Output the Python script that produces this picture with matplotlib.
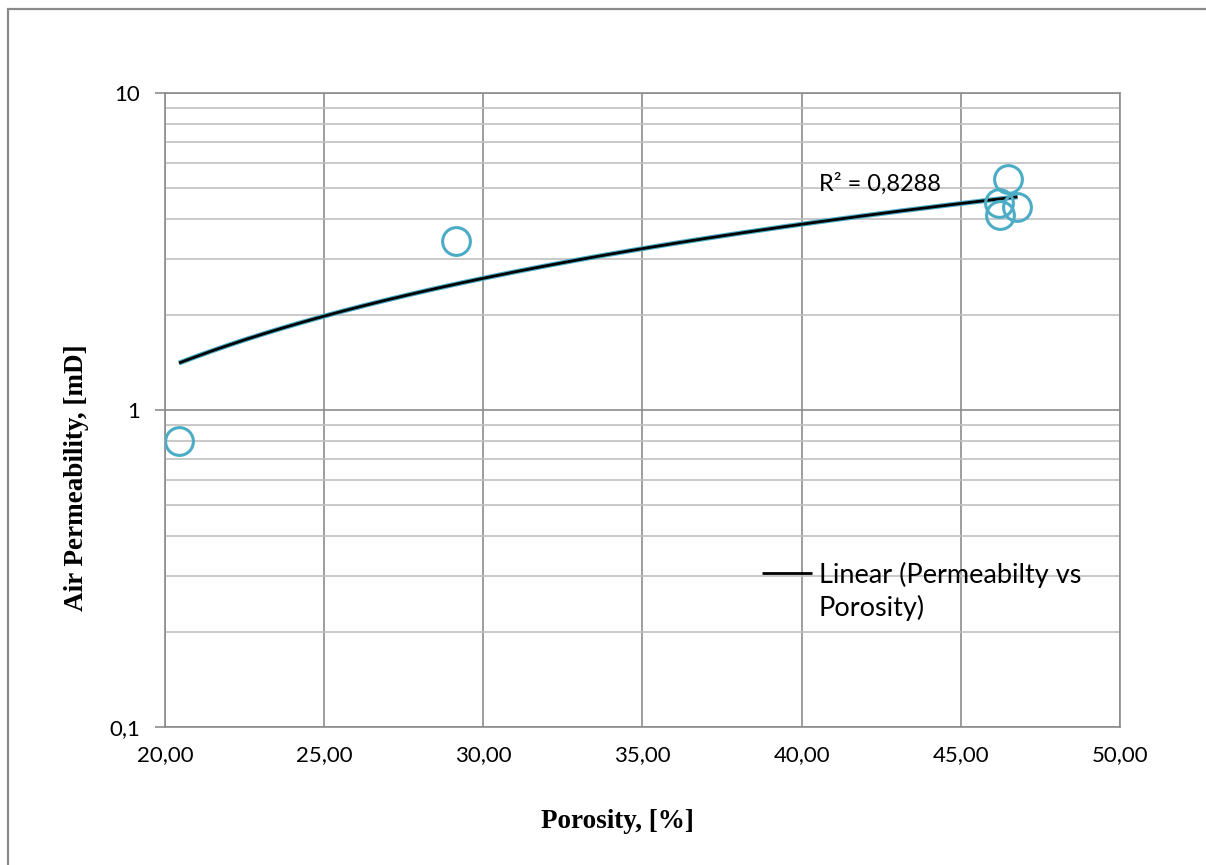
import numpy as np
import matplotlib
matplotlib.use("Agg")
import matplotlib.pyplot as plt
from matplotlib.ticker import FixedLocator, FuncFormatter, NullFormatter
from matplotlib.patches import Rectangle
from matplotlib.legend_handler import HandlerLine2D

porosity = [20.44, 29.14, 46.47, 46.21, 46.23, 46.78]
permeability = [0.80, 3.41, 5.35, 4.50, 4.12, 4.36]
x_ticks = [20, 25, 30, 35, 40, 45, 50]
y_ticks = [0.1, 1, 10]
r2_text = "R² = 0,8288"
legend_label = "Linear (Permeabilty vs\nPorosity)"

W, H = 1206, 865
fig = plt.figure(figsize=(W / 100, H / 100), dpi=100)
ax = fig.add_axes([165 / W, 1 - 727 / H, (1120 - 165) / W, (727 - 93) / H])

tick_font = "Lato"
teal = "#4bacc6"


class ShiftedLine(HandlerLine2D):
    def __init__(self, dy=0.0, **kw):
        super().__init__(**kw)
        self.dy = dy

    def create_artists(self, legend, orig_handle, xdescent, ydescent, width,
                       height, fontsize, trans):
        arts = super().create_artists(legend, orig_handle, xdescent, ydescent,
                                      width, height, fontsize, trans)
        for a in arts:
            a.set_ydata(np.asarray(a.get_ydata()) + self.dy)
        return arts


# linear trendline fit
b, a = np.polyfit(porosity, permeability, 1)
xs = np.linspace(min(porosity), max(porosity), 200)
ys = a + b * xs

ax.set_yscale("log")
ax.set_xlim(20, 50)
ax.set_ylim(0.1, 10)

ax.plot(xs, ys, color=teal, lw=3.6, solid_capstyle="butt", zorder=3)
line, = ax.plot(xs, ys, color="black", lw=2.0, solid_capstyle="butt", zorder=4,
                label=legend_label)
ax.plot(porosity, permeability, linestyle="none", marker="o", ms=20,
        mfc="none", mec=teal, mew=2.2, zorder=5)

ax.xaxis.set_major_locator(FixedLocator(x_ticks))
ax.yaxis.set_major_locator(FixedLocator(y_ticks))
minor = [m * d for d in (0.1, 1) for m in range(2, 10)]
ax.yaxis.set_minor_locator(FixedLocator(minor))
ax.yaxis.set_minor_formatter(NullFormatter())
ax.xaxis.set_major_formatter(FuncFormatter(lambda v, p: f"{v:.2f}".replace(".", ",")))
ax.yaxis.set_major_formatter(FuncFormatter(lambda v, p: (f"{v:g}").replace(".", ",")))

ax.grid(True, which="major", axis="both", color="#8c8c8c", lw=1.2)
ax.grid(True, which="minor", axis="y", color="#c0c0c0", lw=1.2)
ax.set_axisbelow(True)
for s in ax.spines.values():
    s.set_color("#8c8c8c")
    s.set_linewidth(1.2)

ax.tick_params(axis="y", which="major", length=7, width=1.2, color="#8c8c8c",
               labelsize=16, pad=11)
ax.tick_params(axis="y", which="minor", length=0)
ax.tick_params(axis="x", which="major", length=0, labelsize=16, pad=13)
for lab in ax.get_xticklabels() + ax.get_yticklabels():
    lab.set_fontfamily(tick_font)

ax.set_xlabel("Porosity, [%]", fontfamily="Liberation Serif", fontweight="bold",
              fontsize=19.5, va="center")
ax.xaxis.set_label_coords((617 - 165) / (1120 - 165), -(822 - 727) / (727 - 93))
ax.set_ylabel("Air Permeability, [mD]", fontfamily="Liberation Serif",
              fontweight="bold", fontsize=19.5, va="center")
ax.yaxis.set_label_coords(-(165 - 77) / (1120 - 165), (727 - 478) / (727 - 93))

ax.text(880 / W, 1 - 184 / H, r2_text, transform=fig.transFigure, ha="center",
        va="center", fontsize=17, fontfamily=tick_font, zorder=6)

leg = ax.legend(handles=[line], loc="upper left",
                bbox_to_anchor=((751 - 165) / (1120 - 165), (727 - 551) / (727 - 93)),
                frameon=False, prop={"family": tick_font, "size": 19.5},
                handlelength=1.85, handletextpad=0.25, borderaxespad=0,
                handler_map={line: ShiftedLine(dy=13.5)})
for t in leg.get_texts():
    t.set_linespacing(1.35)

fig.patches.append(Rectangle((8 / W, -0.01), 1.05, 1 - 9 / H + 0.01,
                             transform=fig.transFigure, fill=False,
                             edgecolor="#8a8a8a", lw=1.6))

fig.savefig("out.png", dpi=100)
